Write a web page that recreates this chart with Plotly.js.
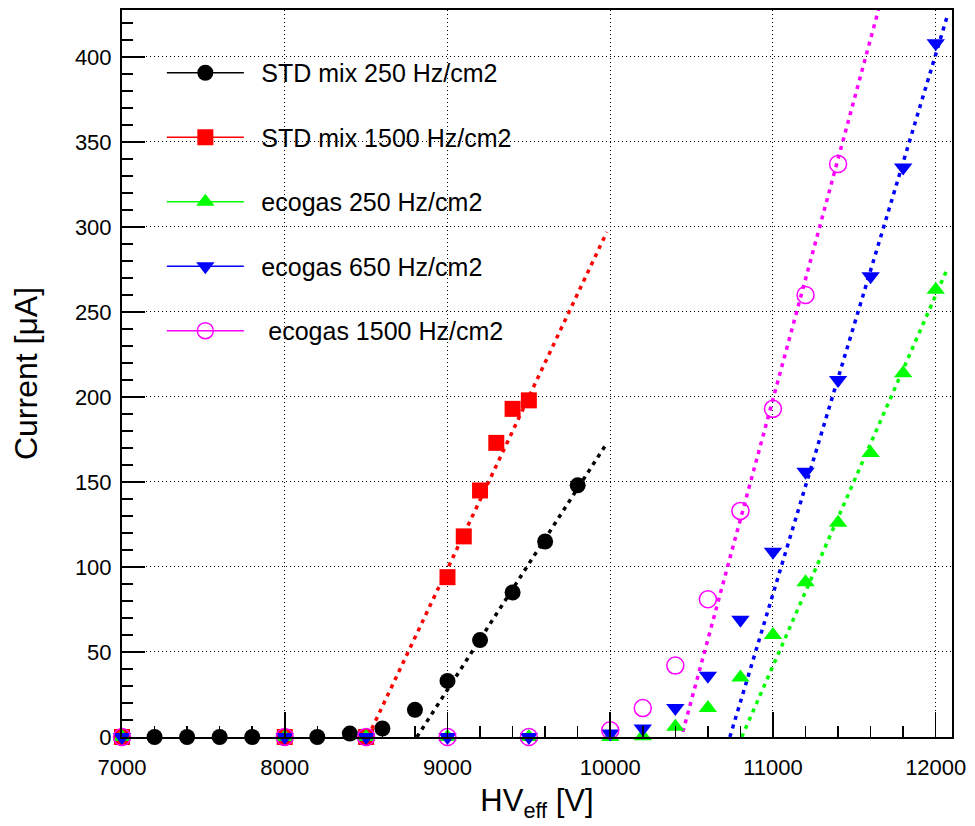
<!DOCTYPE html>
<html>
<head>
<meta charset="utf-8">
<script src="https://cdn.plot.ly/plotly-3.0.1.min.js"></script>
<style>html,body{margin:0;padding:0;background:#fff;}#chart{width:975px;height:826px;}</style>
</head>
<body>
<div id="chart"></div>
<script>
// ---- data ----
const stdLowX  = [7000,7200,7400,7600,7800,8000,8200,8400,8600,8800,9000,9200,9400,9600,9800];
const stdLowY  = [0,0,0,0,0,0,0,2,5,16,33,57,85,115,148];

const stdHighX = [7000,8000,8500,9000,9100,9200,9300,9400,9500];
const stdHighY = [0,0,0,94,118,145,173,193,198];

const eco250X  = [7000,8000,8500,9000,9500,10000,10200,10400,10600,10800,11000,11200,11400,11600,11800,12000];
const eco250Y  = [0,0,0,0,0,0,0.5,6,17,35,60,91,126,167,214,263];

const eco650X  = [7000,8000,8500,9000,9500,10000,10200,10400,10600,10800,11000,11200,11400,11600,11800,12000];
const eco650Y  = [0,0,0,0,0,2,5,17,36,69,109,156,210,271,335,408];

const eco1500X = [7000,8000,8500,9000,9500,10000,10200,10400,10600,10800,11000,11200,11400];
const eco1500Y = [0,0,0,0,0,4,17,42,81,133,193,260,337];

// linear fit lines (end points)
const fitStdLowX  = [8812, 9967];  const fitStdLowY  = [0, 171];
const fitStdHighX = [8511, 9979];  const fitStdHighY = [0, 297];
const fitEco250X  = [10808, 12074]; const fitEco250Y = [0, 276];
const fitEco650X  = [10735, 12074]; const fitEco650Y = [0, 425];
const fitEco1500X = [10446, 11700]; const fitEco1500Y = [3, 446];

const names = ['STD mix 250 Hz/cm2','STD mix 1500 Hz/cm2','ecogas 250 Hz/cm2','ecogas 650 Hz/cm2',' ecogas 1500 Hz/cm2'];
const colors = ['#000000','#ff0000','#00ff00','#0000ff','#ff00ff'];
const symbols = ['circle','square','triangle-up','triangle-down','circle-open'];
const sizes = [16,16,16,16,17];

const xTicks = [7000,8000,9000,10000,11000,12000];
const yTicks = [0,50,100,150,200,250,300,350,400];

const series = [[stdLowX,stdLowY],[stdHighX,stdHighY],[eco250X,eco250Y],[eco650X,eco650Y],[eco1500X,eco1500Y]];
const fits = [[fitStdLowX,fitStdLowY],[fitStdHighX,fitStdHighY],[fitEco250X,fitEco250Y],[fitEco650X,fitEco650Y],[fitEco1500X,fitEco1500Y]];

const traces = [];
// fit lines
fits.forEach((f,i)=>{
  traces.push({x:f[0], y:f[1], mode:'lines', showlegend:false, hoverinfo:'skip',
    line:{color:colors[i], width:3.5, dash:'4px,5px'}});
});
// data markers
series.forEach((s,i)=>{
  traces.push({x:s[0], y:s[1], mode:'markers', showlegend:false, cliponaxis:false,
    marker:{symbol:symbols[i], size:sizes[i], color:colors[i], line:{color:colors[i], width: i===4?1.5:0}}});
});
// legend entries
names.forEach((n,i)=>{
  traces.push({x:[null], y:[null], mode:'lines+markers', name:'\u2002' + n, legendgroup:'g'+i, showlegend:true,
    line:{color:colors[i], width:1.5},
    marker:{symbol:symbols[i], size:sizes[i], color:colors[i], line:{color:colors[i], width: i===4?1.5:0}}});
});

const font = 'Liberation Sans, Arial, Helvetica, sans-serif';
const layout = {
  width:975, height:826,
  margin:{l:122, r:23, t:10, b:89},
  paper_bgcolor:'#fff', plot_bgcolor:'#fff',
  font:{family:font, color:'#000'},
  showlegend:true,
  legend:{x:0.048, y:0.945, xanchor:'left', yanchor:'top', bgcolor:'rgba(0,0,0,0)',
    font:{size:25, family:font, color:'#000'}, itemwidth:77, tracegroupgap:29, traceorder:'grouped'},
  xaxis:{range:[7000,12100], tickvals:xTicks, ticktext:xTicks.map(String),
    ticks:'inside', ticklen:25, tickwidth:1.5, tickcolor:'#000',
    minor:{dtick:200, ticks:'inside', ticklen:11, tickwidth:1.5, tickcolor:'#000', showgrid:false},
    showline:true, linewidth:2, linecolor:'#000', mirror:true,
    showgrid:true, gridcolor:'#000', gridwidth:1, griddash:'1px,3px',
    zeroline:false, tickfont:{size:22, family:font}, ticklabelstandoff:10,
    title:{text:'HV<sub>eff</sub> [V]', font:{size:31, family:font}, standoff:10}},
  yaxis:{range:[0,427.6], tickvals:yTicks, ticktext:yTicks.map(String),
    ticks:'inside', ticklen:23, tickwidth:1.5, tickcolor:'#000',
    minor:{dtick:10, ticks:'inside', ticklen:11, tickwidth:1.5, tickcolor:'#000', showgrid:false},
    showline:true, linewidth:2, linecolor:'#000', mirror:true,
    showgrid:true, gridcolor:'#000', gridwidth:1, griddash:'1px,3px',
    zeroline:false, tickfont:{size:22, family:font}, ticklabelstandoff:4,
    title:{text:'Current [μA]', font:{size:32, family:font}, standoff:28}}
};

Plotly.newPlot('chart', traces, layout, {displayModeBar:false, staticPlot:true});
</script>
</body>
</html>
